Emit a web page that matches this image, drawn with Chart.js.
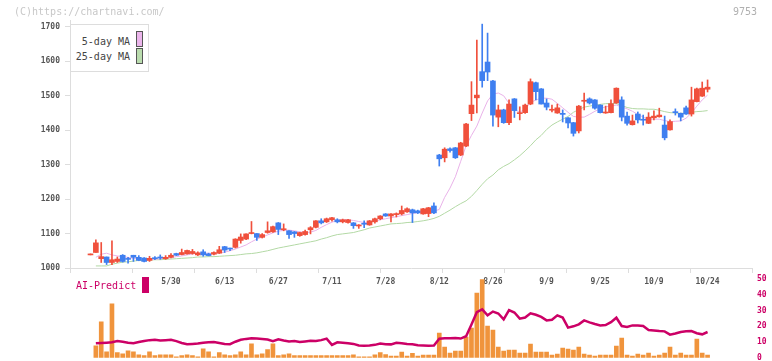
<!DOCTYPE html>
<html><head><meta charset="utf-8">
<script src="https://cdn.jsdelivr.net/npm/chart.js@4.4.1/dist/chart.umd.min.js"></script>
<style>
html,body{margin:0;padding:0;background:#fff;width:772px;height:361px;overflow:hidden;position:relative;font-family:'DejaVu Sans Mono',monospace;}
canvas{position:absolute;left:0;}
#c1{top:0;}
#c2{top:262px;}
.t{position:absolute;white-space:nowrap;line-height:10px;font-size:10px;}
.sw{position:absolute;box-sizing:border-box;border:1px solid #555;}
</style></head><body>
<canvas id="c1" width="772" height="300"></canvas>
<canvas id="c2" width="772" height="110"></canvas>
<div class="t" style="left:14px;top:7px;color:#c8c8c8">(C)https://chartnavi.com/</div>
<div class="t" style="left:733px;top:7px;color:#b0b0b0">9753</div>
<div style="position:absolute;left:70px;top:24px;width:79px;height:48px;box-sizing:border-box;border:1px solid #ddd;background:#fff;"></div>
<div class="t" style="right:642px;top:37px;color:#444">5-day MA</div>
<div class="sw" style="left:136px;top:31px;width:7px;height:16px;background:#ebb5eb"></div>
<div class="t" style="right:642px;top:52px;color:#444">25-day MA</div>
<div class="sw" style="left:136px;top:48px;width:7px;height:16px;background:#badcae"></div>
<div class="t" style="left:76px;top:281px;color:#cc0066">AI-Predict</div>
<div style="position:absolute;left:142px;top:277px;width:7px;height:16px;background:#cc0066"></div>
<script>
const dates = ["5/9","5/12","5/13","5/14","5/15","5/16","5/19","5/20","5/21","5/22","5/23","5/26","5/27","5/28","5/29","5/30",
"6/2","6/3","6/4","6/5","6/6","6/9","6/10","6/11","6/12","6/13","6/16","6/17","6/18","6/19","6/20","6/23","6/24","6/25","6/26","6/27","6/30",
"7/1","7/2","7/3","7/4","7/7","7/8","7/9","7/10","7/11","7/14","7/15","7/16","7/17","7/18","7/22","7/23","7/24","7/25","7/28","7/29","7/30","7/31",
"8/1","8/4","8/5","8/6","8/7","8/8","8/12","8/13","8/14","8/15","8/18","8/19","8/20","8/21","8/22","8/25","8/26","8/27","8/28","8/29",
"9/1","9/2","9/3","9/4","9/5","9/8","9/9","9/10","9/11","9/12","9/16","9/17","9/18","9/19","9/22","9/24","9/25","9/26","9/29","9/30",
"10/1","10/2","10/3","10/6","10/7","10/8","10/9","10/10","10/14","10/15","10/16","10/17","10/20","10/21","10/22","10/23","10/24"];
const tickLabels = ["5/30","6/13","6/27","7/11","7/28","8/12","8/26","9/9","9/25","10/9","10/24"];
const priceTicks = [1000,1100,1200,1300,1400,1500,1600,1700];
const aiTicks = [0,10,20,30,40,50];

const opens = [1038,1045,1027,1032,1016,1019,1037,1027,1037,1031,
1029,1022,1029,1032,1027,1031,1042,1039,1041,1042,
1038,1047,1041,1040,1043,1062,1057,1060,1080,1084,
1100,1100,1089,1103,1105,1131,1111,1108,1105,1094,
1097,1111,1118,1137,1134,1140,1140,1134,1132,1131,
1122,1129,1125,1134,1143,1157,1151,1155,1157,1163,
1169,1166,1157,1158,1180,1328,1320,1346,1349,1328,
1354,1448,1494,1570,1598,1543,1438,1459,1422,1491,
1448,1451,1476,1538,1520,1479,1458,1450,1449,1436,
1422,1398,1484,1491,1488,1473,1450,1451,1479,1488,
1441,1416,1447,1431,1420,1436,1439,1415,1401,1453,
1449,1465,1447,1483,1499,1519];
const highs = [1038,1082,1074,1032,1079,1032,1039,1031,1037,1036,
1030,1034,1033,1038,1036,1042,1043,1055,1052,1054,
1047,1053,1043,1047,1063,1063,1058,1085,1099,1099,
1135,1100,1100,1134,1122,1132,1128,1109,1106,1104,
1110,1120,1138,1143,1145,1147,1143,1142,1141,1132,
1126,1137,1138,1145,1152,1158,1158,1160,1180,1175,
1171,1168,1173,1176,1189,1330,1349,1349,1350,1365,
1420,1541,1662,1708,1682,1545,1473,1461,1488,1492,
1468,1476,1549,1540,1521,1491,1473,1476,1459,1437,
1423,1472,1508,1494,1489,1474,1470,1488,1523,1497,
1453,1444,1453,1444,1451,1456,1464,1441,1430,1462,
1450,1470,1525,1522,1540,1546];
const lows = [1038,1045,1016,1010,1010,1016,1017,1014,1019,1021,
1018,1019,1024,1025,1025,1029,1036,1038,1040,1040,
1036,1034,1035,1038,1042,1045,1050,1058,1072,1082,
1099,1080,1087,1101,1103,1097,1108,1086,1089,1092,
1095,1099,1116,1128,1132,1136,1131,1131,1130,1115,
1115,1117,1124,1130,1140,1150,1134,1148,1154,1161,
1132,1158,1156,1149,1158,1296,1308,1336,1318,1326,
1352,1428,1450,1525,1544,1412,1410,1420,1416,1437,
1430,1449,1474,1488,1476,1459,1453,1449,1424,1407,
1383,1392,1459,1476,1461,1450,1449,1450,1478,1427,
1415,1415,1421,1415,1419,1430,1438,1372,1400,1444,
1427,1446,1441,1482,1498,1511];
const closes = [1038,1073,1033,1016,1024,1026,1019,1025,1031,1022,
1019,1028,1027,1029,1031,1037,1037,1045,1051,1048,
1044,1038,1036,1045,1053,1052,1055,1084,1090,1099,
1102,1089,1097,1108,1120,1112,1114,1097,1100,1103,
1106,1117,1137,1131,1143,1146,1134,1140,1140,1123,
1125,1127,1137,1143,1151,1151,1157,1157,1167,1172,
1160,1160,1172,1175,1160,1317,1345,1341,1320,1363,
1418,1473,1502,1544,1569,1444,1459,1422,1476,1457,
1451,1473,1541,1512,1476,1467,1460,1465,1446,1421,
1391,1470,1487,1479,1464,1451,1452,1477,1522,1438,
1420,1427,1430,1429,1438,1441,1444,1378,1425,1451,
1438,1447,1488,1520,1522,1525];
const ma5 = [null,1031,1040,1043,1038,1035,1033,1031,1028,1026,
1025,1025,1025,1027,1028,1030,1033,1035,1038,1041,
1043,1043,1043,1042,1044,1046,1050,1055,1061,1067,
1076,1084,1090,1096,1102,1107,1109,1110,1108,1105,
1103,1104,1109,1118,1126,1133,1138,1140,1140,1138,
1135,1132,1133,1136,1140,1143,1146,1149,1152,1155,
1158,1161,1163,1165,1165,1170,1205,1232,1265,1310,
1355,1385,1412,1450,1485,1505,1508,1500,1478,1460,
1452,1462,1480,1488,1493,1493,1490,1478,1465,1452,
1440,1438,1438,1446,1455,1462,1468,1470,1473,1468,
1462,1455,1446,1438,1432,1432,1432,1428,1425,1426,
1427,1435,1450,1470,1488,1502];
const ma25 = [null,1006,1006,1006,1011,1014,1017,1018,1020,1022,
1022,1023,1024,1024,1025,1026,1027,1028,1029,1030,
1032,1032,1033,1033,1034,1035,1036,1037,1039,1041,
1042,1044,1047,1050,1054,1058,1061,1064,1067,1070,
1073,1076,1079,1084,1088,1093,1097,1099,1101,1103,
1107,1111,1116,1119,1122,1125,1128,1129,1130,1132,
1133,1135,1137,1140,1144,1150,1159,1168,1178,1187,
1195,1208,1225,1243,1259,1270,1285,1295,1303,1314,
1326,1340,1355,1372,1385,1402,1415,1424,1432,1440,
1452,1460,1467,1470,1473,1475,1477,1478,1477,1472,
1466,1463,1462,1462,1461,1461,1458,1454,1451,1450,
1449,1450,1452,1454,1455,1457];
const volume = [null,7.6,22.9,3.8,34.3,3.2,2.5,4.4,3.8,1.9,
1.3,3.8,1.3,1.9,1.9,1.9,0.6,1.3,1.9,1.3,
0.6,5.7,3.8,0.6,3.2,1.9,1.3,1.9,3.8,1.9,
8.9,1.9,2.5,5.1,8.9,1.3,1.9,2.5,1.3,1.3,
1.3,1.3,1.3,1.3,1.3,1.3,1.3,1.3,1.3,1.9,
0.6,0.6,0.6,1.9,3.2,2.0,1.1,1.1,3.6,1.1,
2.8,1.1,1.7,1.7,1.7,15.7,6.8,3.0,4.2,4.2,
13.1,18.9,41.2,50,20.2,17.6,6.8,4.2,4.9,4.9,
3.0,3.0,8.7,3.6,3.6,3.6,1.7,2.3,6.1,5.5,
4.9,6.8,2.3,1.7,1.1,1.7,1.7,1.7,7.4,12.5,
1.7,1.1,2.3,1.7,3.0,1.1,1.7,3.0,6.8,1.7,
3.0,1.7,1.7,11.9,3.0,1.7];
const aiPredict = [null,9.2,9.4,9.6,9.8,10.6,10.2,9.6,9.2,10.0,
10.6,11.2,11.4,11.0,11.2,11.4,10.6,9.4,8.6,8.8,
9.0,9.6,9.8,10.0,9.4,8.8,8.6,10.2,11.4,12.0,
12.4,12.2,12.0,11.6,10.6,11.8,11.0,10.4,10.6,10.0,
10.4,10.8,10.6,11.2,12.2,8.2,9.8,9.6,9.2,8.8,
7.8,7.7,7.8,8.2,9.0,8.6,8.5,9.5,9.2,8.8,
8.6,8.0,7.8,7.6,7.8,12.1,12.4,12.4,12.6,12.2,
13.7,21.2,29.0,30.8,27.0,29.4,28.2,24.5,30.4,28.8,
24.9,25.6,28.3,27.4,26.0,23.8,24.2,27.0,25.6,19.2,
20.0,21.3,23.8,22.5,21.5,20.6,20.8,22.7,25.5,20.2,
19.6,20.6,20.6,20.2,17.6,17.4,17.0,16.8,14.7,15.4,
16.4,16.8,17.0,15.6,14.9,16.4];

const XMIN = -3.82, XMAX = 123.28;
const UP = '#f0503c', DOWN = '#3f7ff0';
const FONT = "'DejaVu Sans Mono', monospace";
Chart.defaults.font.family = FONT;
const candleColors = dates.map((d, i) => closes[i] >= opens[i] ? UP : DOWN);
const pts = arr => arr.map((v, i) => ({x: i, y: v}));

new Chart(document.getElementById('c1'), {
  type: 'bar',
  data: {
    datasets: [
      {type: 'bar', data: dates.map((d, i) => ({x: i, y: [lows[i], highs[i]]})),
        backgroundColor: candleColors, barThickness: 1, grouped: false, minBarLength: 1, order: 1},
      {type: 'bar', data: dates.map((d, i) => ({x: i, y: [Math.min(opens[i], closes[i]), Math.max(opens[i], closes[i])]})),
        backgroundColor: candleColors, barThickness: 5, grouped: false, minBarLength: 1, order: 0},
      {type: 'line', data: pts(ma5), borderColor: '#e9b2e9', borderWidth: 1, pointRadius: 0, tension: 0, order: 3},
      {type: 'line', data: pts(ma25), borderColor: '#b3d9a5', borderWidth: 1, pointRadius: 0, tension: 0, order: 4}
    ]
  },
  options: {
    responsive: false, animation: false, devicePixelRatio: 1,
    layout: {padding: {left: 0, right: 20, top: 20, bottom: 0}},
    plugins: {legend: {display: false}, tooltip: {enabled: false}},
    scales: {
      x: {
        type: 'linear', min: XMIN, max: XMAX, offset: false,
        afterBuildTicks: (s) => {
          const t = [];
          for (let k = 0; k <= 11; k++) t.push({value: XMIN + k * (XMAX - XMIN) / 11, kind: 'mark'});
          dates.forEach((d, i) => { if (tickLabels.includes(d)) t.push({value: i, kind: 'label'}); });
          s.ticks = t;
        },
        afterFit: (s) => { s.height = 32; },
        ticks: {autoSkip: false, maxRotation: 0, minRotation: 0, padding: 4, color: '#555',
          font: {size: 8, weight: 'bold'},
          callback: (v, i, ticks) => ticks[i].kind === 'label' ? dates[Math.round(v)] : ''},
        grid: {drawOnChartArea: false, offset: false, tickLength: 5,
          tickColor: (ctx) => (ctx.tick && ctx.tick.kind === 'mark') ? '#dddddd' : 'rgba(0,0,0,0)'},
        border: {color: '#dddddd'}
      },
      y: {
        type: 'linear', min: 1000, max: 1720, position: 'left',
        afterBuildTicks: (s) => { s.ticks = priceTicks.map(v => ({value: v})); },
        afterFit: (s) => { s.width = 70; },
        ticks: {padding: 5, color: '#555', font: {size: 8, weight: 'bold'}, callback: (v) => String(v)},
        grid: {drawOnChartArea: false, tickLength: 5, tickColor: '#dddddd'},
        border: {color: '#dddddd'}
      }
    }
  }
});

new Chart(document.getElementById('c2'), {
  type: 'bar',
  data: {
    datasets: [
      {type: 'bar', data: pts(volume), yAxisID: 'yv', backgroundColor: '#f0943c', barThickness: 4, grouped: false, order: 2},
      {type: 'line', data: pts(aiPredict), yAxisID: 'y', borderColor: '#cc0066', borderWidth: 2.5, pointRadius: 0, tension: 0, order: 1}
    ]
  },
  options: {
    responsive: false, animation: false, devicePixelRatio: 1,
    layout: {padding: {left: 70, right: 0, top: 17.3, bottom: 14.3}},
    plugins: {legend: {display: false}, tooltip: {enabled: false}},
    scales: {
      x: {type: 'linear', min: XMIN, max: XMAX, display: false, offset: false},
      yv: {type: 'linear', min: 0, max: 50, display: false, position: 'left'},
      y: {
        type: 'linear', min: 0, max: 50, position: 'right',
        afterBuildTicks: (s) => { s.ticks = aiTicks.map(v => ({value: v})); },
        afterFit: (s) => { s.width = 20; },
        ticks: {padding: 5, color: '#cc0066', font: {size: 8, weight: 'bold'}, callback: (v) => String(v)},
        grid: {display: false, drawTicks: false},
        border: {display: false}
      }
    }
  }
});
</script>
</body></html>
